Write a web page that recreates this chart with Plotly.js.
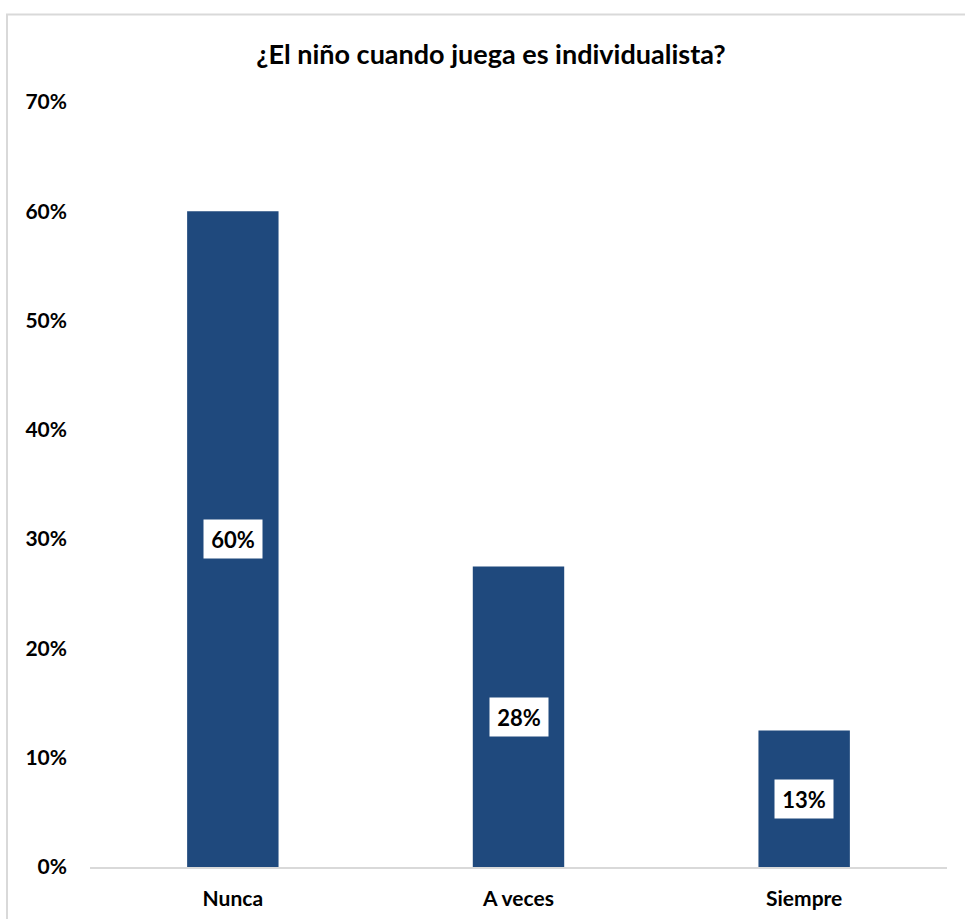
<!DOCTYPE html>
<html>
<head>
<meta charset="utf-8">
<script src="https://cdn.plot.ly/plotly-3.0.1.min.js"></script>
<style>
  html, body { margin: 0; padding: 0; background: #ffffff; }
  #chart { width: 965px; height: 919px; }
</style>
</head>
<body>
<div id="chart"></div>
<script>
const categories = ["Nunca", "A veces", "Siempre"];
const values = [0.60, 0.275, 0.125];
const valueLabels = ["60%", "28%", "13%"];
const yTickValues = [0, 0.1, 0.2, 0.3, 0.4, 0.5, 0.6, 0.7];
const yTickLabels = ["0%", "10%", "20%", "30%", "40%", "50%", "60%", "70%"];
const chartTitle = "¿El niño cuando juega es individualista?";

const FONT = "Lato, 'Open Sans', sans-serif";

const trace = {
  type: "bar",
  x: categories,
  y: values,
  marker: { color: "#1F497D" },
  hoverinfo: "none"
};

const annotations = categories.map((c, i) => ({
  x: c,
  y: values[i] / 2,
  xref: "x",
  yref: "y",
  text: "<b>" + valueLabels[i] + "</b>",
  showarrow: false,
  bgcolor: "#ffffff",
  width: 46,
  height: 26,
  borderpad: 6,
  font: { family: FONT, size: 22, color: "#000000" }
}));

const layout = {
  width: 965,
  height: 919,
  margin: { l: 90, r: 18, t: 102, b: 52 },
  paper_bgcolor: "#ffffff",
  plot_bgcolor: "#ffffff",
  showlegend: false,
  bargap: 0.68,
  title: {
    text: "<b>" + chartTitle + "</b>",
    font: { family: FONT, size: 27, color: "#000000" },
    x: 491 / 965,
    xanchor: "center",
    y: 1 - 55 / 919,
    yanchor: "middle"
  },
  xaxis: {
    type: "category",
    showgrid: false,
    zeroline: false,
    showline: true,
    linecolor: "#D9D9D9",
    linewidth: 2,
    ticks: "",
    ticklabelstandoff: 12,
    tickfont: { family: FONT, size: 21, color: "#000000", weight: "bold" }
  },
  yaxis: {
    range: [0, 0.7],
    tickvals: yTickValues,
    ticktext: yTickLabels,
    showgrid: false,
    zeroline: false,
    showline: false,
    ticks: "",
    ticklabelstandoff: 22,
    tickfont: { family: FONT, size: 21, color: "#000000", weight: "bold" }
  },
  annotations: annotations,
  shapes: [{
    type: "rect",
    xref: "paper",
    yref: "paper",
    x0: (7 - 90) / 857,
    x1: 1.2,
    y0: -0.2,
    y1: 1 + (102 - 14.5) / 765,
    line: { color: "#D9D9D9", width: 2 },
    fillcolor: "rgba(0,0,0,0)",
    layer: "below"
  }]
};

Plotly.newPlot("chart", [trace], layout, { displayModeBar: false, staticPlot: true });
</script>
</body>
</html>
